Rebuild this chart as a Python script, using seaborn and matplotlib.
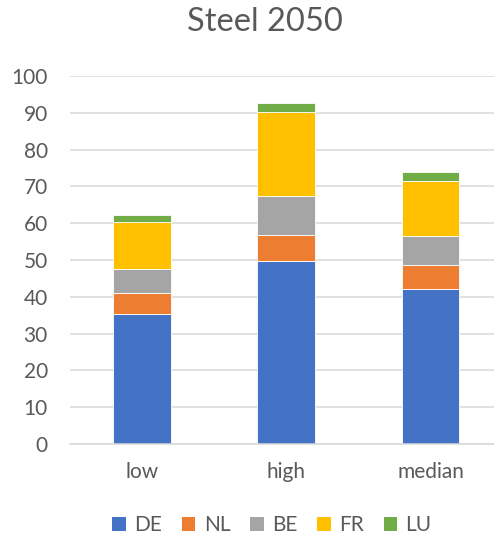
import matplotlib
matplotlib.use("Agg")
import matplotlib.pyplot as plt
import seaborn as sns
import numpy as np
import pandas as pd
from matplotlib.patches import Patch

categories = ["low", "high", "median"]
countries = ["DE", "NL", "BE", "FR", "LU"]
DE = [35.3, 49.6, 42.1]
NL = [5.6, 7.3, 6.5]
BE = [6.6, 10.6, 7.8]
FR = [12.8, 22.6, 15.2]
LU = [1.8, 2.6, 2.2]
colors = ["#4472C4", "#ED7D31", "#A5A5A5", "#FFC000", "#70AD47"]
yticks = [0, 10, 20, 30, 40, 50, 60, 70, 80, 90, 100]

sns.set_style("white")
plt.rcParams['font.family'] = ['Lato', 'DejaVu Sans']
text_color = "#595959"

fig = plt.figure(figsize=(4.94, 5.40), dpi=100)
ax = fig.add_axes([70/494, 1-444/540, (494-70)/494, (444-76)/540])

series = [DE, NL, BE, FR, LU]
bottom = np.zeros(len(categories))
for name, vals, col in zip(countries, series, colors):
    df = pd.DataFrame({"cat": categories, "val": vals})
    sns.barplot(data=df, x="cat", y="val", color=col, bottom=bottom,
                width=0.4, ax=ax, saturation=1, edgecolor="white", linewidth=0.6)
    bottom = bottom + np.array(vals)

ax.set_ylim(0, 100)
ax.set_xlim(-0.5, 2.44)
ax.set_yticks(yticks)
ax.set_yticklabels([str(t) for t in yticks])
ax.yaxis.grid(True, color="#d9d9d9", linewidth=1.1)
ax.set_axisbelow(True)
for s in ["top", "right", "left"]:
    ax.spines[s].set_visible(False)
ax.spines["bottom"].set_color("#d9d9d9")
ax.spines["bottom"].set_linewidth(1.1)
ax.tick_params(axis="both", length=0, labelsize=15, colors=text_color)
ax.tick_params(axis="y", pad=16)
ax.tick_params(axis="x", pad=13)
ax.set_xlabel("")
ax.set_ylabel("")

fig.text(265/494, 1-22/540, "Steel 2050", ha="center", va="center",
         fontsize=23.5, color=text_color)

handles = [Patch(facecolor=c, edgecolor="none") for c in colors]
fig.legend(handles, countries, loc="center", bbox_to_anchor=(272/494, 1-525/540),
           ncol=5, frameon=False, fontsize=15, labelcolor=text_color,
           handlelength=0.65, handleheight=0.65, handletextpad=0.4, columnspacing=0.95)

fig.savefig("out.png", dpi=100)
